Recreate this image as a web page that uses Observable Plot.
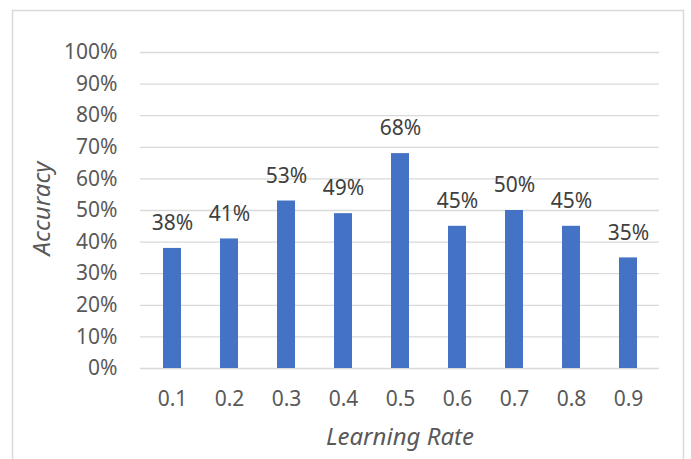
<!DOCTYPE html>
<html><head><meta charset="utf-8">
<script src="https://cdn.jsdelivr.net/npm/d3@7"></script>
<script src="https://cdn.jsdelivr.net/npm/@observablehq/plot@0.6"></script>
<style>
html,body{margin:0;padding:0;background:#fff;}
#chart{position:relative;width:691px;height:459px;}
</style></head>
<body><div id="chart"></div>
<script>
const rates = ["0.1","0.2","0.3","0.4","0.5","0.6","0.7","0.8","0.9"];
const accuracy = [0.38,0.41,0.53,0.49,0.68,0.45,0.50,0.45,0.35];
const yTicks = [0,0.1,0.2,0.3,0.4,0.5,0.6,0.7,0.8,0.9,1.0];
const data = rates.map((r,i)=>({rate:r, acc:accuracy[i]}));
const font = "'Noto Sans', 'Open Sans', sans-serif";
const pct = d3.format(".0%");
const chart = Plot.plot({
  width: 691, height: 459,
  marginLeft: 140, marginRight: 32, marginTop: 52, marginBottom: 91,
  style: {fontFamily: font, fontSize: "21px", color: "#595959", background: "#fff"},
  x: {domain: rates, paddingInner: 0.69, paddingOuter: 0.345, label: null},
  y: {domain: [0,1], label: null},
  marks: [
    Plot.frame({anchor: null, stroke: "#d9d9d9", strokeWidth: 1.5, insetLeft: -128, insetTop: -42, insetRight: -24, insetBottom: -100}),
    Plot.gridY(yTicks, {stroke: "#d9d9d9", strokeOpacity: 1, strokeWidth: 1.3}),
    Plot.barY(data, {x: "rate", y: "acc", fill: "#4472C4"}),
    Plot.text(data, {x: "rate", y: "acc", text: d => pct(d.acc), dy: -25, fill: "#404040", fontSize: 21}),
    Plot.axisX({tickSize: 0, tickPadding: 23, fontSize: 21, fill: "#595959"}),
    Plot.axisY(yTicks, {tickSize: 0, tickPadding: 23, tickFormat: pct, fontSize: 21, fill: "#595959"}),
    Plot.text(["Accuracy"], {frameAnchor: "left", textAnchor: "middle", dx: -98, dy: -2, rotate: -90, fontStyle: "italic", fontSize: 24, fill: "#595959"}),
    Plot.text(["Learning Rate"], {frameAnchor: "bottom", dy: 76, fontStyle: "italic", fontSize: 24, fill: "#595959"})
  ]
});
document.getElementById("chart").appendChild(chart);
</script></body></html>
